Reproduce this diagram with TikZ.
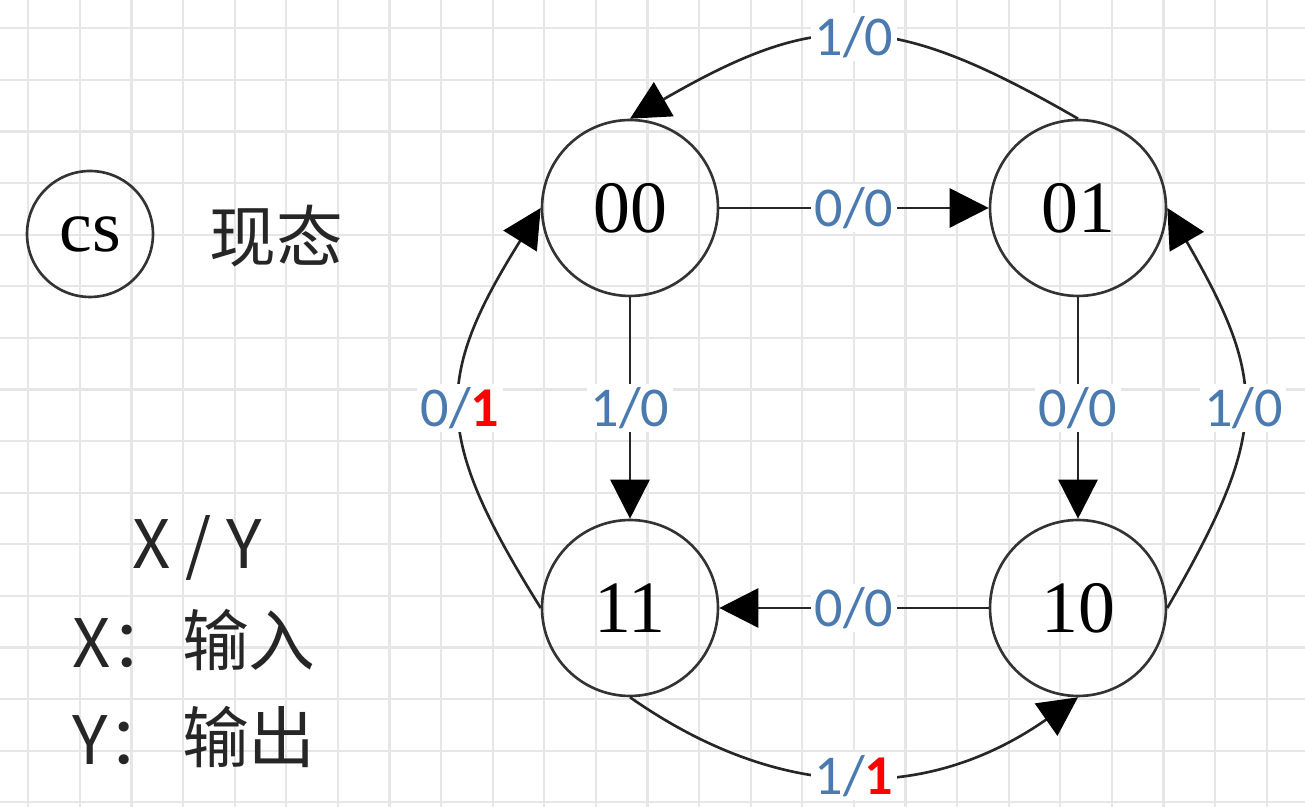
\documentclass[tikz,border=0pt]{standalone}
\usepackage{fontspec}
\setmainfont{Liberation Serif}
\newfontfamily\lblfont{Carlito}
\newfontfamily\cjk{Noto Sans CJK SC}
\usetikzlibrary{arrows.meta}
\definecolor{lblblue}{HTML}{4A7AAF}
\definecolor{gridgray}{HTML}{E6E6E6}
\newcommand\redone{{\color{red}\bfseries 1}}

\begin{document}
\begin{tikzpicture}[x=0.02cm, y=0.02cm,
  state/.style={draw=black!80, circle, line width=1.5pt, minimum size=3.52cm, inner sep=0pt, font=\fontsize{42}{42}\selectfont},
  arr/.style={-{Triangle[length=0.78cm, width=0.78cm, color=black]}, draw=black!85, line width=1.5pt},
  lbl/.style={fill=white, inner sep=2pt, text=lblblue, font=\lblfont\fontsize{32}{32}\selectfont},
  legend/.style={font=\cjk\fontsize{38}{38}\selectfont, text=black!85},
  gridline/.style={draw=gridgray, line width=1.2pt}]
\useasboundingbox (0,0) rectangle (1305,807);
\fill[white] (0,0) rectangle (1305,807);
\foreach \i in {0,...,24}
  \draw[gridline] ({28.3+51.6*\i},0) -- ++(0,807);
\foreach \j in {0,...,15}
  \draw[gridline] (0,{778.7-51.6*\j}) -- ++(1305,0);

\node[state] (s00) at (630,599) {00};
\node[state] (s01) at (1078,599) {01};
\node[state] (s11) at (630,199) {11};
\node[state] (s10) at (1078,199) {10};

\node[state, minimum size=2.52cm] (cs) at (90,573) {cs};
\node[legend] (cstext) at (276,571) {现态};
\node[legend] (xy) at (197,259) {X / Y};
\node[legend, anchor=west] (xkey) at (66,164) {X：};
\node[legend, anchor=west] (xval) at (176,167) {输入};
\node[legend, anchor=west] (ykey) at (66,67) {Y：};
\node[legend, anchor=west] (yval) at (176,70) {输出};

\draw[arr] (s00) -- node[lbl] {0/0} (s01);
\draw[arr] (s10) -- node[lbl] {0/0} (s11);
\draw[arr] (s00) -- node[lbl] {1/0} (s11);
\draw[arr] (s01) -- node[lbl] {0/0} (s10);
\draw[arr] (s01.north) to[out=150, in=30, looseness=1.25] node[lbl] {1/0} (s00.north);
\draw[arr] (s11.west) to[out=122, in=238, looseness=1.3] node[lbl] {0/\redone} (s00.west);
\draw[arr] (s10.east) to[out=60, in=300, looseness=1.3] node[lbl] {1/0} (s01.east);
\draw[arr] (s11.south) to[out=-35, in=215, looseness=1.05] node[lbl] {1/\redone} (s10.south);
\end{tikzpicture}
\end{document}
